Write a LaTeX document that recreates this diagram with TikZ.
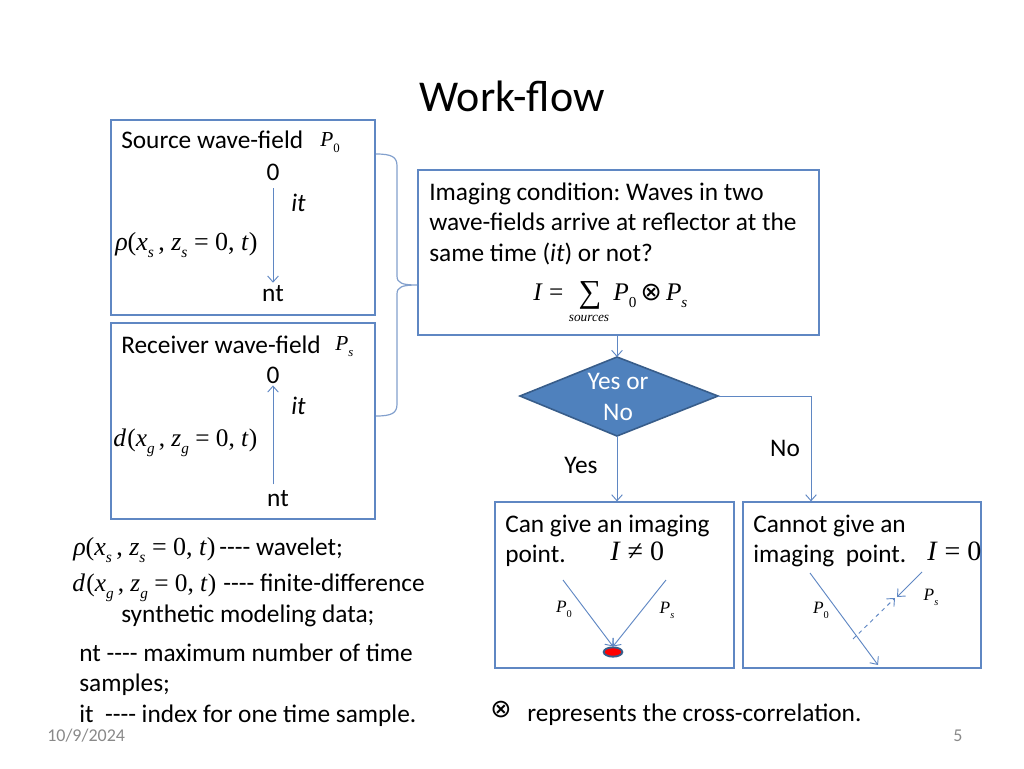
\documentclass[tikz,border=0pt]{standalone}
\usepackage{fontspec}
\setmainfont{Carlito}
\newfontfamily\tnr{Liberation Serif}
\newfontfamily\djv{DejaVu Sans}
\frenchspacing
\usetikzlibrary{arrows.meta,shapes.geometric}
\definecolor{ln}{RGB}{95,135,195}
\definecolor{dfill}{RGB}{79,129,189}
\definecolor{dborder}{RGB}{56,93,138}
\definecolor{gr}{RGB}{137,137,137}
\definecolor{brc}{RGB}{130,160,205}
\newcommand\dsh{{-}{-}{-}{-}}
\newcommand\ox{{\djv ⊗}}
\newcommand\sbs[1]{\raisebox{-0.3em}{\scalebox{0.6}{\itshape #1}}}
\newcommand\sbsr[1]{\raisebox{-0.3em}{\scalebox{0.6}{\upshape #1}}}
\newcommand\rhof{{\tnr\fontsize{19.5}{23}\selectfont\textit{ρ}(\textit{x}\sbs{s}\,, \textit{z}\sbs{s} = 0, \textit{t})}}
\newcommand\dform{{\tnr\fontsize{19}{23}\selectfont\textit{d}\kern1pt(\textit{x}\sbs{g}\,, \textit{z}\sbs{g} = 0, \textit{t})}}
\newcommand\Pz{{\tnr\textit{P}\sbsr{0}}}
\newcommand\Ps{{\tnr\textit{P}\sbs{s}}}
\tikzset{
  box/.style={draw=ln, line width=0.9pt, inner sep=0pt},
  txt/.style={inner sep=0pt, font=\fontsize{19}{23}\selectfont},
  ptxt/.style={inner sep=0pt, font=\fontsize{16}{18}\selectfont},
  stxt/.style={inner sep=0pt, font=\fontsize{13}{15}\selectfont},
  arr/.style={draw=ln, line width=0.7pt, -{Straight Barb[length=4.5pt,width=8pt]}},
  foot/.style={inner sep=0pt, text=gr, font=\fontsize{13.5}{15}\selectfont}
}
\begin{document}
\begin{tikzpicture}[x=0.75pt,y=-0.75pt]
\useasboundingbox (0,0) rectangle (1024,768);

% title
\node[inner sep=0pt, font=\fontsize{33}{38}\selectfont, anchor=base] (title) at (512,111) {Work-flow};

% boxes
\node[box,minimum width=198pt,minimum height=146.25pt] (src) at (243,217.5) {};
\node[box,minimum width=198pt,minimum height=147pt] (rcv) at (243,421) {};
\node[box,minimum width=300.75pt,minimum height=123.75pt] (img) at (618.5,252.5) {};
\node[box,minimum width=179.25pt,minimum height=124.5pt] (can) at (614.5,585) {};
\node[box,minimum width=178.5pt,minimum height=124.5pt] (cannot) at (862,585) {};

% brace
\draw[brc, line width=0.9pt] (376,154) .. controls (392,154) and (397,157) .. (397,166)
  -- (397,276) .. controls (397,283) and (402,285) .. (417,285)
  .. controls (402,285) and (397,287) .. (397,294)
  -- (397,404) .. controls (397,413) and (392,416) .. (376,416);

% source box contents
\node[txt,anchor=base west] (srct) at (121,148) {Source wave-field};
\node[ptxt,anchor=base west] (srcp) at (320,146) {\Pz};
\node[txt,anchor=base] (s0) at (273,180) {0};
\node[txt,anchor=base west] (sit) at (291,211) {\textit{it}};
\node[txt,anchor=base west] (srho) at (115,250) {\rhof};
\node[txt,anchor=base] (snt) at (273,301) {nt};
\draw[arr, shorten <=6pt, shorten >=1.5pt] (s0) -- (snt);

% receiver box contents
\node[txt,anchor=base west] (rt) at (121,353) {Receiver wave-field};
\node[ptxt,anchor=base west] (rp) at (335,350) {\Ps};
\node[txt,anchor=base] (r0) at (273,383) {0};
\node[txt,anchor=base west] (rit) at (291,414) {\textit{it}};
\node[txt,anchor=base west] (rd) at (113,446) {\dform};
\node[txt,anchor=base] (rnt) at (278,506) {nt};
\draw[arr, shorten <=4pt, shorten >=1.5pt] (rnt.north -| r0.south) -- (r0.south);

% imaging condition box
\node[txt,anchor=base west] (i1) at (429,200) {Imaging condition: Waves in two};
\node[txt,anchor=base west] (i2) at (429,230) {wave-fields arrive at reflector at the};
\node[txt,anchor=base west] (i3) at (429,261) {same time (\textit{it}) or not?};
\node[txt,anchor=base west] (ieq) at (533,300) {{\tnr\textit{I} =}};
\node[inner sep=0pt, anchor=base, font=\fontsize{24}{26}\selectfont] (isum) at (590,302) {{\tnr ∑}};
\node[inner sep=0pt, anchor=base] (isrc) at (589,321) {\fontsize{10}{10}\selectfont\tnr\textit{sources}};
\node[txt,anchor=base west] (ipp) at (613,300) {\Pz\,\ox\,\Ps};

% decision diamond
\coordinate (dtop) at (617,357);
\coordinate (dbot) at (617,436);
\coordinate (dleft) at (520,396);
\coordinate (dright) at (718,396);
\draw[fill=dfill, draw=dborder, line width=1.2pt] (dtop) -- (dright) -- (dbot) -- (dleft) -- cycle;
\node[txt, text=white, align=center, font=\fontsize{19}{23}\selectfont] (dtext) at (618,397) {Yes or\\No};

% connectors
\draw[arr] (img.south -| dtop) -- (dtop);
\draw[arr] (dbot) -- (dbot |- can.north);
\coordinate (nox) at (811,0);
\draw[arr] (dright) -| (cannot.north -| nox);
\node[txt] (yes) at (581,465) {Yes};
\node[txt] (no) at (785,448) {No};

% can box
\node[txt,anchor=base west] (c1) at (505,532) {Can give an imaging};
\node[txt,anchor=base west] (c2) at (505,562) {point.};
\node[txt,anchor=base west] (cI) at (610,560) {{\tnr\fontsize{21}{23}\selectfont\textit{I} ≠ 0}};
\node[ellipse, draw=dborder, fill=red, line width=1.4pt, minimum width=14pt, minimum height=7pt, inner sep=0pt] (dot) at (613,652) {};
\coordinate (c1s) at (563,580);
\coordinate (c2s) at (666,580);
\draw[arr] (c1s) -- (dot.north);
\draw[arr] (c2s) -- (dot.north);
\node[stxt] (cp0) at (564,609) {\Pz};
\node[stxt] (cps) at (667,610) {\Ps};

% cannot box
\node[txt,anchor=base west] (n1) at (753,532) {Cannot give an};
\node[txt,anchor=base west] (n2) at (753,562) {imaging\ \ point.};
\node[txt,anchor=base west] (nI) at (927,560) {{\tnr\fontsize{21}{23}\selectfont\textit{I} = 0}};
\coordinate (n0s) at (810,573);
\coordinate (n0e) at (878,665);
\coordinate (nss) at (922,572);
\coordinate (nse) at (897,597);
\coordinate (nds) at (853,639);
\coordinate (nde) at (895,598);
\draw[arr] (n0s) -- (n0e);
\draw[arr] (nss) -- (nse);
\draw[arr, dashed] (nds) -- (nde);
\node[stxt] (np0) at (821,610) {\Pz};
\node[stxt] (nps) at (931,597) {\Ps};

% legend
\node[txt,anchor=base west] (l1f) at (73,555) {\rhof};
\node[txt,anchor=base west] (l1t) at (219,555) {\dsh{} wavelet;};
\node[txt,anchor=base west] (l2f) at (72,591) {\dform};
\node[txt,anchor=base west] (l2t) at (223,591) {\dsh{} finite-difference};
\node[txt,anchor=base west] (l3) at (121,622) {synthetic modeling data;};
\node[txt,anchor=base west] (l4) at (79,661) {nt \dsh{} maximum number of time};
\node[txt,anchor=base west] (l5) at (79,691) {samples;};
\node[txt,anchor=base west] (l6) at (79,722) {it\ \ \dsh{} index for one time sample.};
\node[txt] (otim) at (501,710) {\ox};
\node[txt,anchor=base west] (xc) at (527,721) {represents the cross-correlation.};

% footer
\node[foot,anchor=base west] (date) at (47,741) {10/9/2024};
\node[foot,anchor=base] (pg) at (958,741) {5};
\end{tikzpicture}
\end{document}
